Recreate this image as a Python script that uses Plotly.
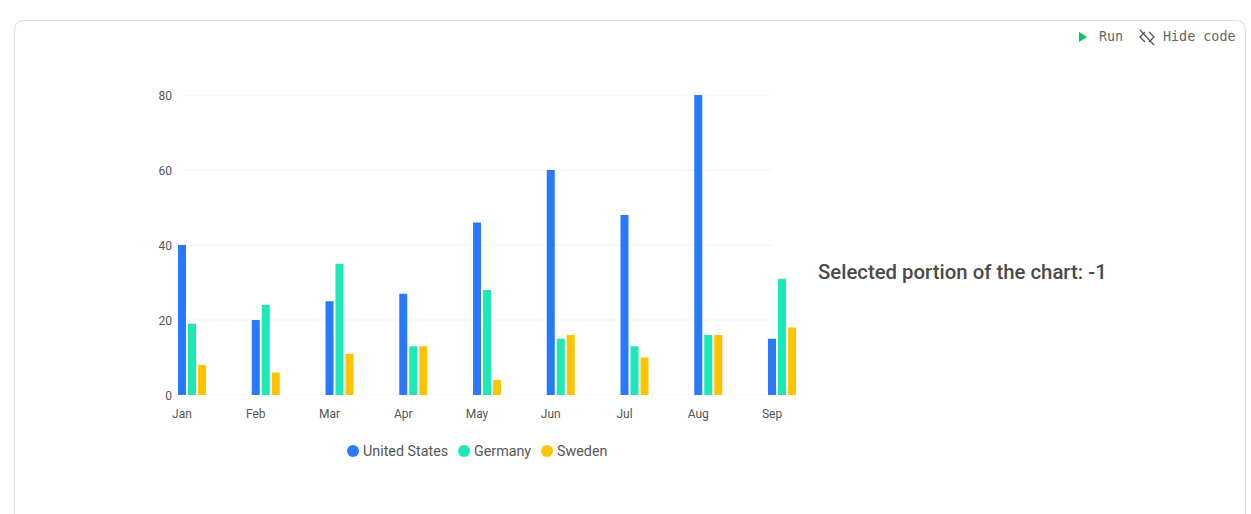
import plotly.graph_objects as go

W, H = 1251, 514
months = ["Jan", "Feb", "Mar", "Apr", "May", "Jun", "Jul", "Aug", "Sep"]
united_states = [40, 20, 25, 27, 46, 60, 48, 80, 15]
germany = [19, 24, 35, 13, 28, 15, 13, 16, 31]
sweden = [8, 6, 11, 13, 4, 16, 10, 16, 18]
y_ticks = [0, 20, 40, 60, 80]
series_names = ["United States", "Germany", "Sweden"]
colors = ["#2979FF", "#1DE9B6", "#FFC400"]

X0, X1, Y0, Y1 = 182.0, 772.0, 395.0, 95.0
step = (X1 - X0) / 8
bar_w = 8 / step
offsets = [-4 / step, 6 / step, 16 / step]
# the axis area is widened so that the first and last groups are not cut off
pad_l, pad_r = 0.2, 0.4
DX0, DX1 = X0 - pad_l * step, X1 + pad_r * step

def px(v):
    return v / W

def py(v):
    return 1 - v / H

def note(text, x, y, size, color, family="Roboto", weight=400):
    return dict(text=text, xref="paper", yref="paper", x=px(x), y=py(y), xanchor="left", yanchor="middle",
                showarrow=False, font=dict(family=family, size=size, color=color, weight=weight))

fig = go.Figure()
for name, vals, col, off in zip(series_names, [united_states, germany, sweden], colors, offsets):
    fig.add_bar(x=months, y=vals, name=name, width=bar_w, offset=off,
                marker=dict(color=col, line=dict(width=0)), cliponaxis=False, showlegend=False)

TXT = "#555555"
ann = [
    note("Selected portion of the chart: -1", 816, 272, 20.35, "#4a4a4a", weight=500),
    note("Run", 1097, 36.5, 13.4, "#666666", family="DejaVu Sans Mono"),
    note("Hide code", 1161, 36.5, 13.4, "#666666", family="DejaVu Sans Mono"),
]
shapes = [
    dict(type="path", xref="paper", yref="paper", layer="below",
         path=f"M {px(14.5)} {py(530)} L {px(14.5)} {py(30.5)} Q {px(14.5)} {py(20.5)} {px(24.5)} {py(20.5)} "
              f"L {px(1235.5)} {py(20.5)} Q {px(1245.5)} {py(20.5)} {px(1245.5)} {py(30.5)} L {px(1245.5)} {py(530)}",
         line=dict(color="#dddddd", width=1)),
    dict(type="path", xref="paper", yref="paper",
         path=f"M {px(1079)} {py(32)} L {px(1087)} {py(37)} L {px(1079)} {py(42)} Z",
         fillcolor="#00C853", line=dict(width=0)),
    dict(type="path", xref="paper", yref="paper",
         path=f"M {px(1140)} {py(30)} L {px(1154)} {py(45)}", line=dict(color="#555555", width=1.3)),
    dict(type="path", xref="paper", yref="paper",
         path=f"M {px(1145)} {py(32)} L {px(1140)} {py(37)} L {px(1145)} {py(42)} "
              f"M {px(1149)} {py(32)} L {px(1154)} {py(37)} L {px(1149)} {py(42)}",
         line=dict(color="#555555", width=1.3)),
]
for t in y_ticks:
    shapes.append(dict(type="line", xref="x", yref="y", layer="below", x0=months[0], x1=months[-1], y0=t, y1=t,
                       line=dict(color="#f7f7f7", width=1.5)))
legend_cx = [353, 464, 547]
for name, col, cx in zip(series_names, colors, legend_cx):
    shapes.append(dict(type="circle", xref="paper", yref="paper",
                       x0=px(cx - 6), x1=px(cx + 6), y0=py(451 + 6), y1=py(451 - 6),
                       fillcolor=col, line=dict(width=0)))
    ann.append(note(name, cx + 8, 451, 14.3, TXT))

fig.update_layout(
    width=W, height=H, margin=dict(l=0, r=0, t=0, b=0, pad=0, autoexpand=False),
    paper_bgcolor="white", plot_bgcolor="white", barmode="overlay",
    font=dict(family="Roboto", size=12, color=TXT),
    annotations=ann, shapes=shapes, showlegend=False,
    xaxis=dict(domain=[px(DX0), px(DX1)], range=[-pad_l, 8 + pad_r], type="category", categoryorder="array",
               categoryarray=months, showgrid=False, zeroline=False, showline=False, ticks="",
               ticklabelstandoff=10, tickfont=dict(family="Roboto", size=12, color=TXT)),
    yaxis=dict(domain=[py(Y0), py(Y1)], range=[0, 80], tickvals=y_ticks, showgrid=False, zeroline=False,
               showline=False, ticks="", anchor="free", position=px(X0),
               ticklabelstandoff=10, ticklabelshift=1, tickfont=dict(family="Roboto", size=12, color=TXT)),
)
fig.write_html("out.html", config=dict(displayModeBar=False),
               post_script="document.body.style.margin='0';document.documentElement.style.overflow='hidden';")
